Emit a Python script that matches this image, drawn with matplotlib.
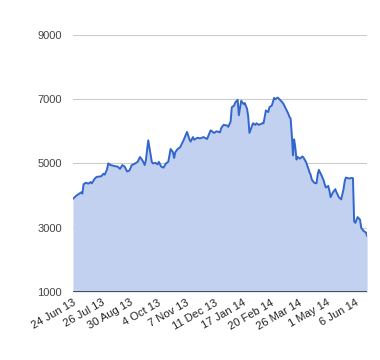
import numpy as np
import matplotlib.pyplot as plt

plt.rcParams['font.family'] = ['Liberation Sans', 'DejaVu Sans']

# trading-day index and value
days = [0, 3, 5, 7, 8, 9, 11, 13, 15, 16, 18, 20, 24, 26, 27, 29, 30, 32, 35, 38,
        40, 42, 44, 46, 48, 50, 52, 55, 57, 59, 61, 62, 64, 65, 67, 68, 70, 72, 73, 75,
        77, 79, 81, 83, 85, 86, 87, 89, 91, 94, 96, 97, 99, 100, 102, 103, 106, 108, 111, 114,
        115, 117, 120, 122, 125, 126, 128, 131, 132, 134, 135, 137, 138, 140, 141, 143, 145, 146, 148, 149,
        150, 152, 153, 155, 156, 158, 161, 162, 164, 166, 167, 169, 171, 172, 174, 176, 178, 179, 181, 183,
        184, 185, 186, 187, 188, 189, 190, 191, 193, 195, 196, 198, 200, 201, 202, 203, 205, 207, 208, 209,
        211, 213, 214, 215, 217, 218, 219, 221, 223, 224, 226, 228, 230, 231, 232, 235, 237, 238, 239, 240,
        242, 244, 245, 247, 249, 250]
values = [3900, 4000, 4050, 4100, 4060, 4350, 4400, 4370, 4420, 4380, 4500, 4580, 4600, 4680, 4650, 4820, 5000, 4950, 4920, 4900,
          4830, 4950, 4900, 4750, 4780, 4950, 4980, 5050, 5200, 5100, 4950, 5100, 5720, 5500, 5050, 5000, 5020, 4970, 5050, 4900,
          4870, 5000, 5050, 5450, 5350, 5170, 5350, 5450, 5500, 5720, 5900, 5980, 5750, 5680, 5820, 5740, 5800, 5780, 5820, 5760,
          5850, 6030, 5950, 6000, 5970, 6100, 6200, 6180, 6140, 6300, 6750, 6800, 6900, 6980, 6500, 6950, 6850, 6880, 6700, 6450,
          5950, 6150, 6250, 6200, 6250, 6200, 6250, 6250, 6650, 6600, 6750, 6800, 7040, 7000, 7050, 6980, 6900, 6850, 6700, 6550,
          6450, 6400, 5900, 5250, 5750, 5500, 5120, 5200, 5150, 5220, 5180, 5050, 4850, 4730, 4650, 4500, 4400, 4380, 4650, 4800,
          4650, 4480, 4350, 4250, 4300, 4150, 3950, 4100, 4200, 4100, 3950, 3880, 4200, 4450, 4560, 4530, 4550, 4540, 3200, 3150,
          3330, 3250, 3000, 2900, 2850, 2750]

tick_labels = ['24 Jun 13', '26 Jul 13', '30 Aug 13', '4 Oct 13', '7 Nov 13', '11 Dec 13',
               '17 Jan 14', '20 Feb 14', '26 Mar 14', '1 May 14', '6 Jun 14']
y_ticks = [1000, 3000, 5000, 7000, 9000]

fig = plt.figure(figsize=(3.8, 3.6), dpi=100)
ax = fig.add_axes([0.192, 0.189, 0.774, 0.714])

ax.fill_between(days, values, 1000, color='#c2d1f0', linewidth=0)
ax.plot(days, values, color='#3366cc', linewidth=1.4)

ax.set_xlim(0, 250)
ax.set_ylim(1000, 9000)
ax.set_yticks(y_ticks)
ax.set_yticklabels([str(v) for v in y_ticks], fontsize=8, color='#444444')
ax.set_xticks(np.arange(len(tick_labels)) * 24)
ax.set_xticklabels(tick_labels, rotation=30, ha='right', rotation_mode='anchor',
                   fontsize=8, color='#222222')
ax.tick_params(length=0, pad=8)
ax.tick_params(axis='x', pad=4)

for v in y_ticks[1:]:
    ax.axhline(v, color='#cccccc', linewidth=0.8, zorder=0)
ax.axhline(1000, color='#333333', linewidth=1.2)

for s in ax.spines.values():
    s.set_visible(False)

fig.savefig('out.png', dpi=100)
